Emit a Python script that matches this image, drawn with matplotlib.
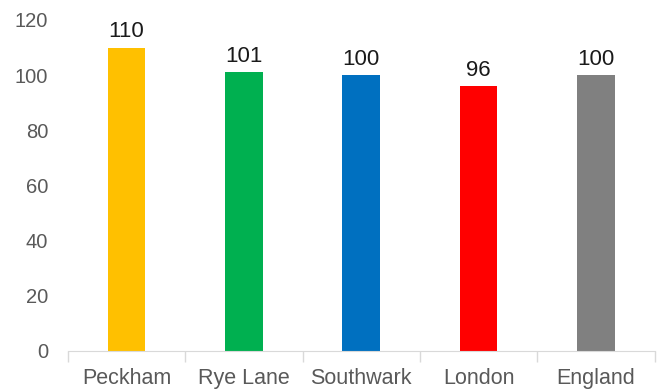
import matplotlib
matplotlib.use('Agg')
import matplotlib.pyplot as plt
import numpy as np

# 数据
areas = ['Peckham', 'Rye Lane', 'Southwark', 'London', 'England']
values = [110, 101, 100, 96, 100]
colors = ['#FFC000', '#00B050', '#0070C0', '#FF0000', '#808080']

plt.rcParams['font.family'] = ['Liberation Sans', 'DejaVu Sans']

fig = plt.figure(figsize=(6.64, 3.92), dpi=100)
ax = fig.add_axes([0.102, 0.105, 0.884, 0.844])

x = np.arange(len(areas))
bars = ax.bar(x, values, width=0.32, color=colors)

# 数值标签
for xi, v in zip(x, values):
    ax.text(xi, v + 2, str(v), ha='center', va='bottom', fontsize=16, color='#1a1a1a')

ax.set_xlim(-0.5, len(areas) - 0.5)
ax.set_ylim(0, 120)
ax.set_yticks(range(0, 121, 20))
ax.tick_params(axis='y', length=0, labelsize=14.5, labelcolor='#595959', pad=14)

# x轴：分隔刻度在类别之间
ax.set_xticks(x)
ax.set_xticklabels(areas)
ax.tick_params(axis='x', which='major', length=0, labelsize=15.5, labelcolor='#595959', pad=12)
ax.set_xticks(np.arange(-0.5, len(areas), 1.0), minor=True)
ax.tick_params(axis='x', which='minor', length=8, color='#D9D9D9', width=1)

for s in ['top', 'right', 'left']:
    ax.spines[s].set_visible(False)
ax.spines['bottom'].set_color('#D9D9D9')

fig.savefig('out.png', dpi=100)
